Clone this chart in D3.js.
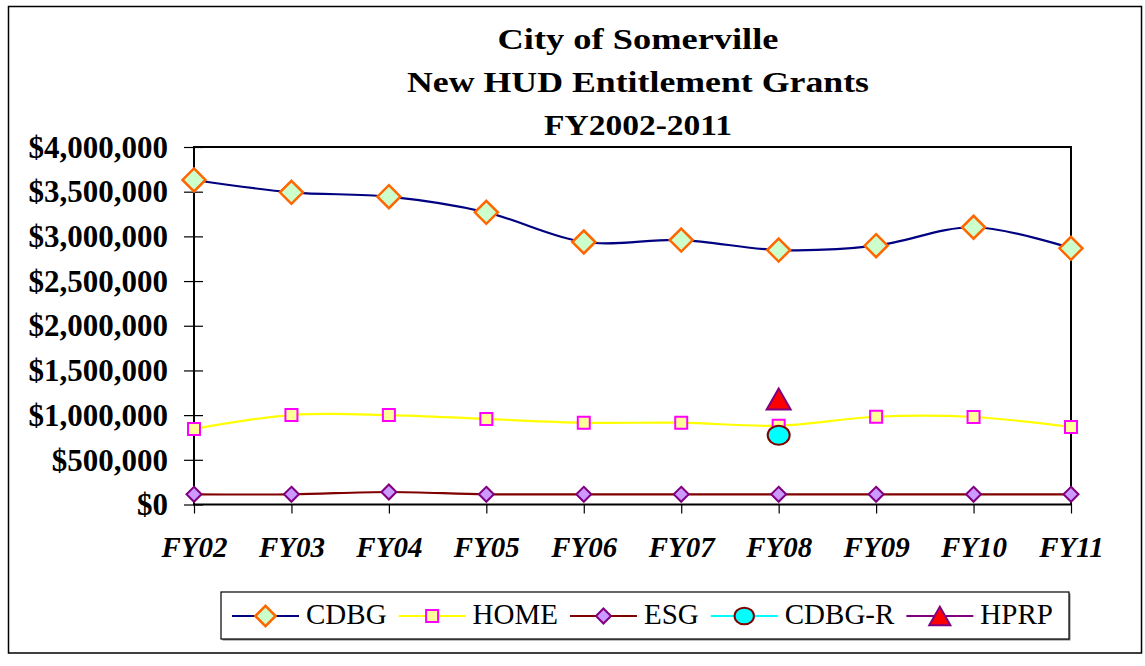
<!DOCTYPE html>
<html>
<head>
<meta charset="utf-8">
<script src="https://cdn.jsdelivr.net/npm/d3@7/dist/d3.min.js"></script>
<style>
  html, body { margin: 0; padding: 0; background: #fff; }
  text { font-family: "Liberation Serif", "Times New Roman", serif; fill: #000; }
</style>
</head>
<body>
<div id="chart"></div>
<script>
// data
var years = ["FY02", "FY03", "FY04", "FY05", "FY06", "FY07", "FY08", "FY09", "FY10", "FY11"];
var cdbg = [3631000, 3493000, 3444000, 3269000, 2937000, 2959000, 2847000, 2896000, 3102000, 2867000];
var home = [845000, 1001000, 1001000, 957000, 915000, 915000, 882000, 982000, 979000, 867000];
var esg = [114000, 114000, 140000, 114000, 114000, 114000, 114000, 114000, 114000, 114000];
var cdbgR = [null, null, null, null, null, null, 775000, null, null, null];
var hprp = [null, null, null, null, null, null, 1180000, null, null, null];
var yTicks = [0, 500000, 1000000, 1500000, 2000000, 2500000, 3000000, 3500000, 4000000];
var titleLines = ["City of Somerville", "New HUD Entitlement Grants", "FY2002-2011"];

var W = 1145, H = 666;
var plot = { left: 194, right: 1071, top: 147, bottom: 504.5 };

var svg = d3.select("#chart").append("svg").attr("width", W).attr("height", H);

// outer frame
svg.append("rect")
  .attr("x", 8.5).attr("y", 6.5).attr("width", 1133).attr("height", 646.5)
  .attr("fill", "#fff").attr("stroke", "#000").attr("stroke-width", 1.5);

// title
var titleWidths = [281, 462, 188];
svg.selectAll(".title").data(titleLines).enter().append("text")
  .attr("class", "title")
  .attr("x", 638)
  .attr("y", function (d, i) { return 49 + i * 43; })
  .attr("text-anchor", "middle")
  .attr("font-size", 30).attr("font-weight", "bold")
  .attr("textLength", function (d, i) { return titleWidths[i]; })
  .attr("lengthAdjust", "spacingAndGlyphs")
  .text(function (d) { return d; });

var x = d3.scalePoint().domain(years).range([plot.left, plot.right]);
var y = d3.scaleLinear().domain([0, 4000000]).range([plot.bottom, plot.top]);

// y axis
var yAxis = d3.axisLeft(y).tickValues(yTicks).tickSizeInner(10).tickSizeOuter(0)
  .tickPadding(16).tickFormat(d3.format("$,"));
var gy = svg.append("g").attr("transform", "translate(" + plot.left + ",0)").call(yAxis);
gy.select(".domain").remove();
gy.selectAll(".tick line").attr("x1", 9).attr("stroke", "#000").attr("stroke-width", 1.2);
gy.selectAll(".tick text")
  .attr("font-family", "Liberation Serif, Times New Roman, serif")
  .attr("font-size", 31).attr("font-weight", "bold").attr("dy", "0.33em");

// x axis
var xAxis = d3.axisBottom(x).tickSizeInner(9).tickSizeOuter(0).tickPadding(23);
var gx = svg.append("g").attr("transform", "translate(0," + plot.bottom + ")").call(xAxis);
gx.select(".domain").remove();
gx.selectAll(".tick line").attr("stroke", "#000").attr("stroke-width", 1.2);
gx.selectAll(".tick text")
  .attr("font-family", "Liberation Serif, Times New Roman, serif")
  .attr("font-size", 29).attr("font-weight", "bold").attr("font-style", "italic");

// plot frame
svg.append("rect")
  .attr("x", plot.left).attr("y", plot.top)
  .attr("width", plot.right - plot.left).attr("height", plot.bottom - plot.top)
  .attr("fill", "none").attr("stroke", "#000").attr("stroke-width", 2);

// marker shapes
function diamond(r) { return "M0," + (-r) + "L" + r + ",0L0," + r + "L" + (-r) + ",0Z"; }
function square(s) { var h = s / 2; return "M" + (-h) + "," + (-h) + "H" + h + "V" + h + "H" + (-h) + "Z"; }
function ellipse(rx, ry) {
  return "M" + (-rx) + ",0A" + rx + "," + ry + " 0 1,0 " + rx + ",0A" + rx + "," + ry + " 0 1,0 " + (-rx) + ",0Z";
}
function triangle(w, h) { return "M0," + (-h / 2) + "L" + (w / 2) + "," + (h / 2) + "L" + (-w / 2) + "," + (h / 2) + "Z"; }

var series = [
  { name: "CDBG", values: cdbg, line: "#000080", lw: 2.2, fill: "#CCFFCC", stroke: "#FF6600", sw: 2.5,
    shape: function (k) { return diamond(11.5 * k); } },
  { name: "HOME", values: home, line: "#FFFF00", lw: 2.2, fill: "#FFFF99", stroke: "#FF00FF", sw: 2,
    shape: function (k) { return square(12); } },
  { name: "ESG", values: esg, line: "#800000", lw: 2.2, fill: "#CC99FF", stroke: "#800080", sw: 2,
    shape: function (k) { return diamond(7.5); } },
  { name: "CDBG-R", values: cdbgR, line: "#00FFFF", lw: 2.2, fill: "#00FFFF", stroke: "#800000", sw: 2,
    shape: function (k) { return ellipse(11 * k, 9.5 * k); } },
  { name: "HPRP", values: hprp, line: "#800080", lw: 2.2, fill: "#FF0000", stroke: "#800080", sw: 2,
    shape: function (k) { return triangle(24 * k, 21 * k); } }
];

var line = d3.line()
  .defined(function (d) { return d.v != null; })
  .x(function (d) { return x(d.year); })
  .y(function (d) { return y(d.v); })
  .curve(d3.curveCatmullRom.alpha(0));

series.forEach(function (s) {
  var pts = years.map(function (yr, i) { return { year: yr, v: s.values[i] }; });
  var g = svg.append("g");
  g.append("path").datum(pts)
    .attr("d", line)
    .attr("fill", "none").attr("stroke", s.line).attr("stroke-width", s.lw);
  g.selectAll("path.mk").data(pts.filter(function (d) { return d.v != null; })).enter()
    .append("path").attr("class", "mk")
    .attr("transform", function (d) { return "translate(" + x(d.year) + "," + y(d.v) + ")"; })
    .attr("d", s.shape(1))
    .attr("fill", s.fill).attr("stroke", s.stroke).attr("stroke-width", s.sw);
});

// legend
var leg = { left: 221, top: 592, right: 1069, bottom: 639, cy: 616 };
svg.append("rect")
  .attr("x", leg.left + 1.5).attr("y", leg.top + 1.5)
  .attr("width", leg.right - leg.left).attr("height", leg.bottom - leg.top)
  .attr("fill", "#808080");
svg.append("rect")
  .attr("x", leg.left).attr("y", leg.top)
  .attr("width", leg.right - leg.left).attr("height", leg.bottom - leg.top)
  .attr("fill", "#fff").attr("stroke", "#000").attr("stroke-width", 1.2);

var lx = 232;
series.forEach(function (s) {
  var g = svg.append("g");
  g.append("line")
    .attr("x1", lx).attr("x2", lx + 67).attr("y1", leg.cy).attr("y2", leg.cy)
    .attr("stroke", s.line).attr("stroke-width", s.lw);
  g.append("path")
    .attr("transform", "translate(" + (lx + 33.5) + "," + leg.cy + ")")
    .attr("d", s.shape(0.88))
    .attr("fill", s.fill).attr("stroke", s.stroke).attr("stroke-width", s.sw);
  var t = g.append("text")
    .attr("x", lx + 74).attr("y", leg.cy + 8)
    .attr("font-size", 29)
    .text(s.name);
  lx = lx + 74 + t.node().getComputedTextLength() + 12;
});
</script>
</body>
</html>
